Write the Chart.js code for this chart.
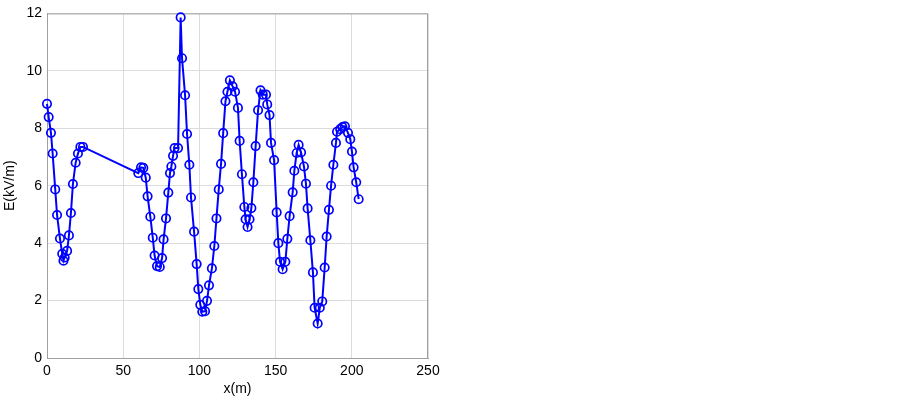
<!DOCTYPE html>
<html>
<head>
<meta charset="utf-8">
<script src="https://cdn.jsdelivr.net/npm/chart.js@4.4.0/dist/chart.umd.min.js"></script>
<style>
    html, body { margin: 0; padding: 0; background: #fff; }
    #wrap { width: 900px; height: 400px; position: relative; }
</style>
</head>
<body>
<div id="wrap"><canvas id="chart"></canvas></div>
<script>
// distance along the line (m)
const xValues = [
    0, 1.1, 2.6, 3.7, 5.4, 6.6, 8.5, 10, 10.8, 11.6, 13.2, 14.4, 15.7, 17, 18.8, 20.3, 21.9, 23.6,
    59.9, 61.7, 63.2, 64.8, 66, 67.8, 69.4, 70.6, 72.2, 74, 75.5, 76.5, 78.1, 79.6, 80.7, 81.6, 82.7, 83.7, 86,
    87.7, 88.6, 90.6, 91.9, 93.4, 94.5, 96.5, 98.2, 99.3, 100.6, 101.9, 103.7, 105, 106.3, 108.2, 109.8,
    111.2, 112.7, 114.2, 115.6, 117.1, 118.4, 120, 121.8, 123.4, 125.3, 126.4, 127.9, 129.5, 130.3, 131.6,
    132.9, 134.1, 135.4, 136.9, 138.5, 140.1, 141.6, 143.7, 144.5, 146, 147, 149, 150.7, 151.8, 152.9,
    154.6, 156.4, 157.7, 159.2, 161.2, 162.3, 163.8, 165.1, 166.7, 168.6, 169.9, 171, 172.8, 174.5,
    175.6, 177.6, 179, 180.6, 182.2, 183.5, 185, 186.4, 187.9, 189.6, 190.3, 192.4, 193.9, 195.5,
    197.5, 199, 200.1, 201.2, 202.9, 204.5
];
// field strength E (kV/m)
const eValues = [
    8.85, 8.39, 7.84, 7.12, 5.87, 4.98, 4.16, 3.63, 3.39, 3.50, 3.73, 4.27, 5.05, 6.06, 6.80, 7.12, 7.35, 7.35,
    6.44, 6.64, 6.62, 6.28, 5.63, 4.92, 4.19, 3.57, 3.20, 3.17, 3.48, 4.13, 4.86, 5.76, 6.44, 6.67, 7.04, 7.31, 7.31,
    11.86, 10.44, 9.15, 7.80, 6.73, 5.59, 4.40, 3.27, 2.40, 1.85, 1.61, 1.63, 1.99, 2.53, 3.12, 3.90,
    4.86, 5.87, 6.76, 7.83, 8.94, 9.27, 9.67, 9.46, 9.27, 8.71, 7.56, 6.40, 5.26, 4.83, 4.56,
    4.83, 5.22, 6.12, 7.38, 8.63, 9.32, 9.17, 9.17, 8.83, 8.46, 7.49, 6.89, 5.07, 4.00, 3.35,
    3.09, 3.35, 4.15, 4.94, 5.77, 6.52, 7.14, 7.42, 7.16, 6.67, 6.07, 5.21, 4.10, 2.98,
    1.75, 1.20, 1.75, 1.97, 3.15, 4.23, 5.16, 6.00, 6.73, 7.49, 7.88, 7.97, 8.04, 8.07,
    7.84, 7.62, 7.19, 6.64, 6.12, 5.53
];
const xTicks = [0, 50, 100, 150, 200, 250];
const yTicks = [0, 2, 4, 6, 8, 10, 12];

const points = xValues.map((x, i) => ({ x, y: eValues[i] }));
const font = { family: '"Liberation Sans", Arial, sans-serif', size: 14 };

// MATLAB style box around the plot
const boxPlugin = {
    id: 'box',
    beforeDatasetsDraw(chart) {
        const { ctx, chartArea: a } = chart;
        ctx.save();
        ctx.strokeStyle = '#a0a0a0';
        ctx.lineWidth = 1;
        ctx.strokeRect(a.left + 0.5, a.top + 0.5, a.right - a.left - 1, a.bottom - a.top);
        ctx.restore();
    }
};

new Chart(document.getElementById('chart'), {
    type: 'line',
    data: {
        datasets: [{
            data: points,
            borderColor: '#0000ff',
            borderWidth: 2,
            pointRadius: 4.2,
            pointBorderWidth: 1.7,
            pointBorderColor: '#0000ff',
            pointBackgroundColor: 'rgba(255,255,255,0)',
            tension: 0,
            fill: false,
            clip: false
        }]
    },
    options: {
        responsive: true,
        maintainAspectRatio: false,
        animation: false,
        layout: { padding: { left: 0, right: 472, top: 11, bottom: 0 } },
        plugins: { legend: { display: false }, tooltip: { enabled: false } },
        scales: {
            x: {
                type: 'linear',
                min: 0, max: 250,
                afterBuildTicks: s => { s.ticks = xTicks.map(v => ({ value: v })); },
                afterFit: s => { s.height = 42; },
                grid: { color: '#dcdcdc', drawTicks: false },
                border: { color: '#a0a0a0' },
                ticks: { color: '#000', font, padding: 5, maxRotation: 0 },
                title: { display: true, text: 'x(m)', color: '#000', font, padding: { top: 0, bottom: 2 } }
            },
            y: {
                type: 'linear',
                min: 0, max: 12,
                afterBuildTicks: s => { s.ticks = yTicks.map(v => ({ value: v })); },
                afterFit: s => { s.width = 47; },
                grid: { color: '#dcdcdc', drawTicks: false },
                border: { color: '#a0a0a0' },
                ticks: { color: '#000', font, padding: 5 },
                title: { display: true, text: 'E(kV/m)', color: '#000', font, padding: { top: 2, bottom: 0 } }
            }
        }
    },
    plugins: [boxPlugin]
});
</script>
</body>
</html>
